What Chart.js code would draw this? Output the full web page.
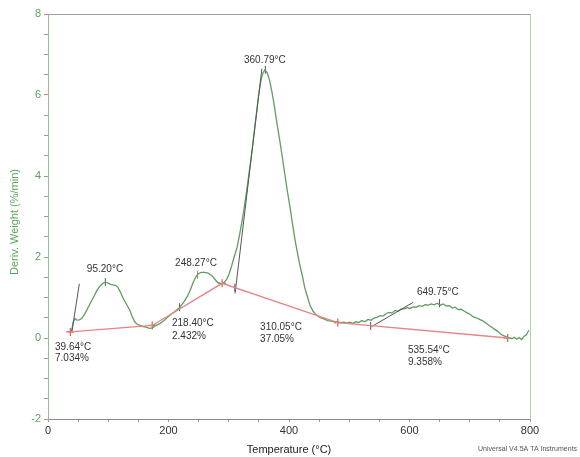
<!DOCTYPE html>
<html lang="en">
<head>
  <meta charset="UTF-8">
  <title>DTG curve</title>
  <script src="https://cdn.jsdelivr.net/npm/chart.js"></script>
  <style>
    html, body { margin: 0; padding: 0; background: #fff; }
    #grafico { display: block; }
  </style>
</head>
<body>
  <canvas id="grafico" width="580" height="457"></canvas>

  <script>
    // DTG curve (temperature °C, deriv. weight %/min)
    const temps = [39,42,45,48,52,56,62,70,76,81,86,91,95,99,103,108,112,116,120,124,130,136,140,144,148,153,158,164,168,173,178,186,194,202,210,219,225,231,236,241,245,249,254,260,266,272,277,281,285,289,293,297,301,305,309,314,318,322,326,330,334,338,342,346,350,354,357,360,364,368,372,376,380,385,389,393,397,402,406,410,414,418,422,426,430,435,440,446,452,458,464,470,476,481,486,491,496,501,506,511,516,521,526,531,536,541,546,551,556,561,566,571,576,581,586,591,596,601,606,611,616,621,626,631,636,641,646,651,656,661,666,671,676,681,686,691,696,701,706,711,716,721,726,731,736,741,746,751,756,761,766,770,774,778,782,786,790,794,798];
    const deriv = [0.17,0.40,0.48,0.44,0.45,0.48,0.62,0.85,1.02,1.17,1.28,1.35,1.38,1.36,1.33,1.31,1.30,1.25,1.14,1.00,0.84,0.68,0.52,0.40,0.34,0.31,0.28,0.26,0.24,0.25,0.30,0.36,0.45,0.56,0.65,0.76,0.88,1.02,1.18,1.37,1.50,1.58,1.62,1.62,1.60,1.54,1.45,1.38,1.35,1.34,1.38,1.46,1.60,1.79,2.00,2.25,2.55,2.88,3.25,3.65,4.10,4.55,5.05,5.55,6.05,6.40,6.55,6.62,6.55,6.35,6.05,5.70,5.30,4.85,4.45,4.05,3.65,3.20,2.80,2.42,2.10,1.80,1.55,1.25,1.05,0.80,0.66,0.56,0.50,0.47,0.43,0.42,0.40,0.40,0.38,0.39,0.37,0.39,0.36,0.40,0.38,0.43,0.40,0.46,0.44,0.49,0.51,0.55,0.54,0.60,0.63,0.62,0.68,0.66,0.71,0.72,0.75,0.73,0.77,0.76,0.80,0.78,0.82,0.81,0.84,0.82,0.86,0.81,0.84,0.79,0.80,0.74,0.76,0.70,0.71,0.66,0.62,0.58,0.52,0.50,0.46,0.43,0.38,0.32,0.27,0.22,0.17,0.10,0.06,0.03,0.00,-0.02,0.02,-0.03,0.01,-0.04,0.04,0.08,0.19];

    // red integration baseline
    const baseT = [37, 173, 289, 481, 763];
    const baseV = [0.15, 0.31, 1.35, 0.38, 0.00];

    // tangent lines [t1, v1, t2, v2]
    const tangents = [
      [39.5, 0.14, 52, 1.34],
      [310.5, 1.10, 355, 6.65],
      [537, 0.28, 606, 0.88]
    ];

    // small vertical marks (peaks and onsets)
    const markT = [95.2, 218.4, 310.05, 360.79, 535.54, 649.75];
    const markV = [1.38, 0.76, 1.24, 6.62, 0.30, 0.86];
    const peakMarkT = [248.27];
    const peakMarkV = [1.56];

    // annotations: text, temperature, value, align
    const notes = [
      ['360.79°C', 360, 6.85, 'center'],
      ['95.20°C', 94.6, 1.69, 'center'],
      ['248.27°C', 245.6, 1.84, 'center'],
      ['649.75°C', 647, 1.12, 'center'],
      ['39.64°C', 11.6, -0.23, 'left'],
      ['7.034%', 11.6, -0.51, 'left'],
      ['218.40°C', 205.8, 0.36, 'left'],
      ['2.432%', 205.8, 0.05, 'left'],
      ['310.05°C', 352, 0.26, 'left'],
      ['37.05%', 352, -0.04, 'left'],
      ['535.54°C', 597.5, -0.31, 'left'],
      ['9.358%', 597.5, -0.60, 'left']
    ];

    const xTicks = [0, 200, 400, 600, 800];
    const yTicks = [-2, 0, 2, 4, 6, 8];

    const curva = temps.map((t, i) => ({ x: t, y: deriv[i] }));
    const base = baseT.map((t, i) => ({ x: t, y: baseV[i] }));
    const marcas = markT.map((t, i) => ({ x: t, y: markV[i] }));
    const marcasPico = peakMarkT.map((t, i) => ({ x: t, y: peakMarkV[i] }));

    const tangentSets = tangents.map(tg => ({
      data: [{ x: tg[0], y: tg[1] }, { x: tg[2], y: tg[3] }],
      showLine: true,
      borderColor: '#555',
      borderWidth: 1,
      pointRadius: 0
    }));

    const extras = {
      id: 'extras',
      beforeDatasetsDraw(chart) {
        const { ctx, chartArea: a } = chart;
        ctx.save();
        ctx.lineWidth = 1;
        ctx.strokeStyle = '#a0a0a0';
        ctx.beginPath();
        ctx.moveTo(a.left, a.top + 0.5);
        ctx.lineTo(a.right, a.top + 0.5);
        ctx.stroke();
        ctx.strokeStyle = '#a9d3a9';
        ctx.beginPath();
        ctx.moveTo(a.right + 0.5, a.top);
        ctx.lineTo(a.right + 0.5, a.bottom);
        ctx.stroke();
        ctx.restore();
      },
      afterDatasetsDraw(chart) {
        const { ctx, scales: { x, y } } = chart;
        ctx.save();
        ctx.font = '10px "Liberation Sans", Arial, sans-serif';
        ctx.fillStyle = '#333';
        ctx.textBaseline = 'middle';
        notes.forEach(n => {
          ctx.textAlign = n[3];
          ctx.fillText(n[0], x.getPixelForValue(n[1]), y.getPixelForValue(n[2]));
        });

        // axis titles
        ctx.fillStyle = '#5aa55a';
        ctx.font = '11px "Liberation Sans", Arial, sans-serif';
        ctx.textAlign = 'center';
        ctx.translate(15, 222);
        ctx.rotate(-Math.PI / 2);
        ctx.fillText('Deriv. Weight (%/min)', 0, 0);
        ctx.restore();

        ctx.save();
        ctx.fillStyle = '#222';
        ctx.font = '11px "Liberation Sans", Arial, sans-serif';
        ctx.textAlign = 'center';
        ctx.textBaseline = 'middle';
        ctx.fillText('Temperature (°C)', (x.left + x.right) / 2, 450);
        ctx.fillStyle = '#555';
        ctx.font = '7px "Liberation Sans", Arial, sans-serif';
        ctx.textAlign = 'left';
        ctx.fillText('Universal V4.5A TA Instruments', 478, 449);
        ctx.restore();
      }
    };

    new Chart(document.getElementById('grafico'), {
      type: 'scatter',
      data: {
        datasets: [
          {
            data: base,
            showLine: true,
            borderColor: '#e58585',
            borderWidth: 1.3,
            pointRadius: 0
          },
          ...tangentSets,
          {
            data: curva,
            showLine: true,
            borderColor: '#5e9e5e',
            borderWidth: 1.3,
            pointRadius: 0
          },
          {
            data: base,
            pointStyle: 'cross',
            pointRadius: 4,
            borderColor: '#e05a5a',
            borderWidth: 1.2,
            backgroundColor: 'transparent'
          },
          {
            data: marcas,
            pointStyle: 'line',
            rotation: 90,
            pointRadius: 4,
            borderColor: '#555',
            borderWidth: 1
          },
          {
            data: marcasPico,
            pointStyle: 'line',
            rotation: 90,
            pointRadius: 4,
            borderColor: '#d27070',
            borderWidth: 1
          }
        ]
      },
      options: {
        responsive: false,
        animation: false,
        layout: { padding: { top: 14, right: 50, left: 0, bottom: 0 } },
        plugins: { legend: { display: false }, tooltip: { enabled: false } },
        scales: {
          x: {
            type: 'linear',
            min: 0,
            max: 800,
            afterFit: s => { s.height = 38; },
            ticks: {
              stepSize: 50,
              autoSkip: false,
              maxRotation: 0,
              padding: 2,
              color: '#333',
              font: { size: 11, family: '"Liberation Sans", Arial, sans-serif' },
              callback: v => xTicks.includes(v) ? v : ''
            },
            grid: { drawOnChartArea: false, drawTicks: true, tickLength: 3, color: '#999' },
            border: { color: '#8a8a8a' }
          },
          y: {
            min: -2,
            max: 8,
            afterFit: s => { s.width = 48; },
            ticks: {
              stepSize: 0.5,
              autoSkip: false,
              padding: 3,
              color: '#5aa55a',
              font: { size: 11, family: '"Liberation Sans", Arial, sans-serif' },
              callback: v => yTicks.includes(v) ? v : ''
            },
            grid: { drawOnChartArea: false, drawTicks: true, tickLength: 4, color: '#9a9a9a' },
            border: { color: '#9fb59f' }
          }
        }
      },
      plugins: [extras]
    });
  </script>
</body>
</html>
